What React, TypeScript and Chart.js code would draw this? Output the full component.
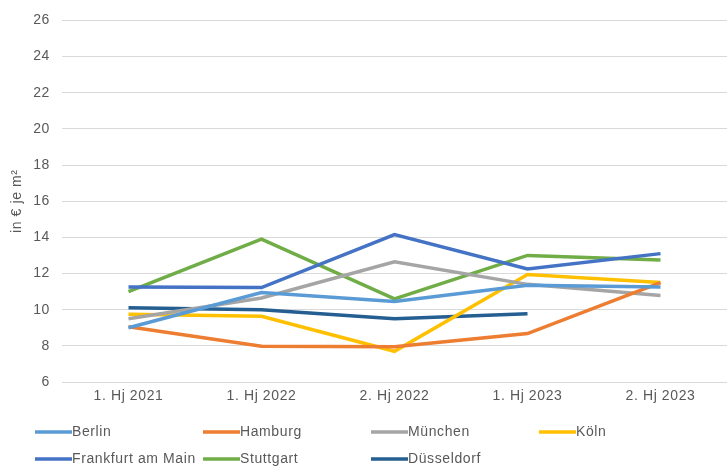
import React, { useEffect, useRef } from "react";
import { Chart, registerables } from "chart.js";

Chart.register(...registerables);

const categories = ["1. Hj 2021", "1. Hj 2022", "2. Hj 2022", "1. Hj 2023", "2. Hj 2023"];
const berlin = [9.0, 10.95, 10.45, 11.35, 11.25];
const hamburg = [9.05, 7.98, 7.95, 8.68, 11.5];
const muenchen = [9.5, 10.65, 12.65, 11.4, 10.78];
const koeln = [9.75, 9.63, 7.7, 11.95, 11.5];
const frankfurt = [11.25, 11.22, 14.15, 12.25, 13.1];
const stuttgart = [11.0, 13.9, 10.6, 13.0, 12.75];
const duesseldorf: (number | null)[] = [10.1, 10.0, 9.5, 9.78, null];

const seriesNames = ["Berlin", "Hamburg", "München", "Köln", "Frankfurt am Main", "Stuttgart", "Düsseldorf"];
const seriesValues = [berlin, hamburg, muenchen, koeln, frankfurt, stuttgart, duesseldorf];
const seriesColors = ["#5B9BD5", "#ED7D31", "#A5A5A5", "#FFC000", "#4472C4", "#70AD47", "#255E91"];

const yMin = 6;
const yMax = 26;
const yStep = 2;
const yTitle = "in € je m²";

const FONT = "'Liberation Sans', Arial, sans-serif";
const FSIZE = 14;
const SPACING = "0.6px";
const TEXT = "#595959";

const spacingPlugin = {
  id: "spacing",
  beforeInit(chart: any) { chart.ctx.letterSpacing = SPACING; },
  beforeLayout(chart: any) { chart.ctx.letterSpacing = SPACING; },
  beforeDraw(chart: any) { chart.ctx.letterSpacing = SPACING; },
};

const gridLegend = {
  id: "gridLegend",
  afterDraw(chart: any) {
    const ctx = chart.ctx;
    ctx.save();
    ctx.letterSpacing = SPACING;
    ctx.font = `${FSIZE}px ${FONT}`;
    ctx.textBaseline = "middle";
    ctx.textAlign = "left";
    chart.data.datasets.forEach((ds: any, i: number) => {
      const col = i % 4;
      const row = Math.floor(i / 4);
      const x = 35 + col * 168;
      const y = 432 + row * 27;
      ctx.strokeStyle = ds.borderColor;
      ctx.lineWidth = 3.5;
      ctx.beginPath();
      ctx.moveTo(x, y);
      ctx.lineTo(x + 37, y);
      ctx.stroke();
      ctx.fillStyle = TEXT;
      ctx.fillText(ds.label, x + 37, y);
    });
    ctx.restore();
  },
};

export default function App() {
  const ref = useRef<HTMLCanvasElement>(null);
  useEffect(() => {
    document.body.style.margin = "0";
    const chart = new Chart(ref.current as HTMLCanvasElement, {
      type: "line",
      data: {
        labels: categories,
        datasets: seriesNames.map((name, i) => ({
          label: name,
          data: seriesValues[i],
          borderColor: seriesColors[i],
          backgroundColor: seriesColors[i],
          borderWidth: 3.5,
          pointRadius: 0,
          tension: 0,
          spanGaps: false,
        })),
      },
      options: {
        responsive: false,
        animation: false,
        layout: { padding: { top: 16, right: 0, bottom: 62, left: 0 } },
        plugins: { legend: { display: false }, tooltip: { enabled: false } },
        scales: {
          x: {
            offset: true,
            grid: { display: false, drawTicks: false },
            border: { display: false },
            ticks: { color: TEXT, font: { family: FONT, size: FSIZE }, padding: 6, maxRotation: 0 },
            afterFit: (s: any) => { s.height = 23; },
          },
          y: {
            min: yMin,
            max: yMax,
            grid: { color: "#D9D9D9", lineWidth: 1, drawTicks: false },
            border: { display: false },
            ticks: { stepSize: yStep, color: TEXT, font: { family: FONT, size: FSIZE }, padding: 12 },
            title: {
              display: true,
              text: yTitle,
              color: TEXT,
              font: { family: FONT, size: FSIZE },
              padding: { top: 9, bottom: 0 },
            },
            afterFit: (s: any) => { s.width = 62; },
          },
        },
      },
      plugins: [spacingPlugin, gridLegend],
    });
    return () => chart.destroy();
  }, []);
  return (
    <div style={{ width: 727, height: 467, background: "#fff" }}>
      <canvas ref={ref} width={727} height={467} />
    </div>
  );
}
